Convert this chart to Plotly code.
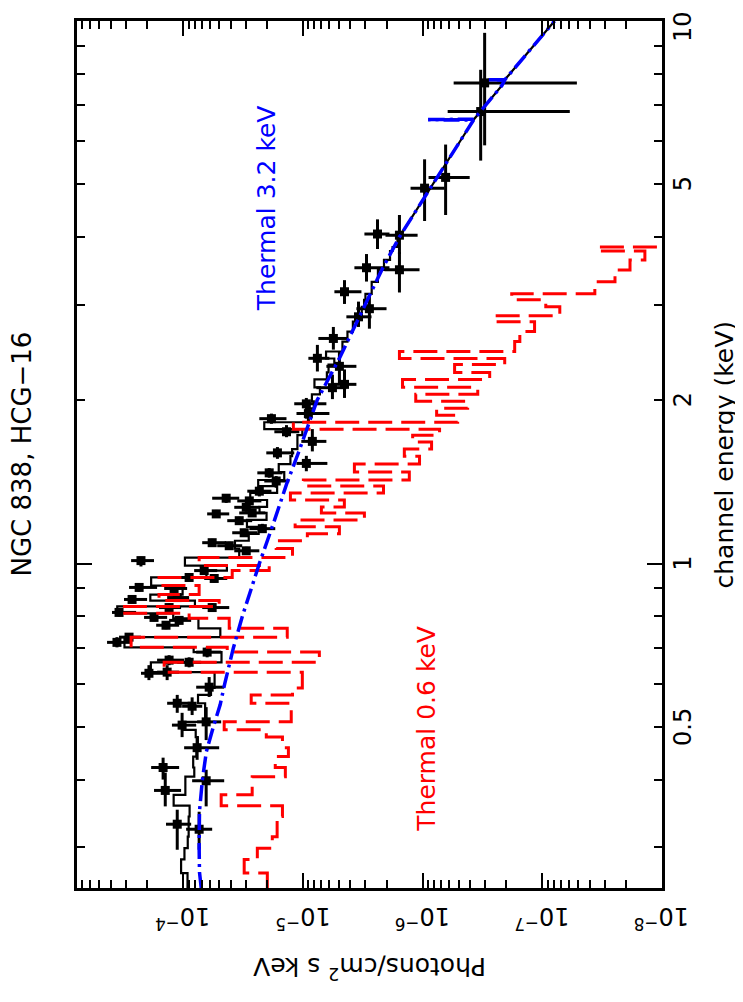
import math
import plotly.graph_objects as go

# ---------------- data ----------------
# Observed spectrum: energy (keV) with bin edges, flux (photons/cm^2 s keV) with error bounds
data_E = [7.69, 6.81, 5.15, 4.92, 4.05, 4.03, 3.51, 3.48, 3.17, 2.95, 2.85, 2.60, 2.39, 2.31,
          2.14, 2.11, 1.97, 1.89, 1.85, 1.75, 1.68, 1.60, 1.53, 1.47, 1.42, 1.36, 1.32, 1.305,
          1.235, 1.27, 1.24, 1.20, 1.16, 1.14, 1.093, 1.079, 1.056, 1.013, 0.971, 0.943, 0.939,
          0.904, 0.900, 0.859, 0.866, 0.813, 0.830, 0.830, 0.796, 0.786, 0.770, 0.716, 0.732,
          0.687, 0.664, 0.658, 0.628, 0.631, 0.592, 0.553, 0.546, 0.504, 0.511, 0.458, 0.421,
          0.382, 0.398, 0.331, 0.324]
data_E_lo = [5.90, 5.53, 4.39, 4.28, 3.80, 3.72, 3.31, 3.16, 3.01, 2.71, 2.73, 2.48, 2.26, 2.14,
             2.02, 2.01, 1.85, 1.83, 1.81, 1.71, 1.61, 1.56, 1.48, 1.44, 1.38, 1.33, 1.294, 1.283,
             1.214, 1.246, 1.22, 1.179, 1.145, 1.121, 1.074, 1.061, 1.039, 0.988, 0.954, 0.927,
             0.923, 0.888, 0.885, 0.845, 0.852, 0.799, 0.816, 0.816, 0.783, 0.773, 0.757, 0.701,
             0.719, 0.672, 0.650, 0.644, 0.610, 0.610, 0.568, 0.531, 0.526, 0.479, 0.473, 0.435,
             0.400, 0.357, 0.357, 0.297, 0.297]
data_E_hi = [9.51, 8.13, 5.92, 5.56, 4.31, 4.39, 3.72, 3.75, 3.33, 3.13, 3.04, 2.73, 2.53, 2.46,
             2.28, 2.23, 2.02, 1.96, 1.89, 1.80, 1.77, 1.64, 1.58, 1.50, 1.45, 1.39, 1.344, 1.327,
             1.256, 1.288, 1.261, 1.22, 1.184, 1.159, 1.111, 1.097, 1.074, 1.03, 0.987, 0.958,
             0.954, 0.919, 0.915, 0.874, 0.881, 0.827, 0.845, 0.845, 0.810, 0.799, 0.782, 0.732,
             0.744, 0.701, 0.678, 0.672, 0.650, 0.650, 0.618, 0.573, 0.567, 0.531, 0.544, 0.479,
             0.439, 0.412, 0.417, 0.352, 0.349]
data_F = [3.03e-7, 3.27e-7, 6.42e-7, 9.62e-7, 2.38e-6, 1.56e-6, 2.94e-6, 1.56e-6, 4.49e-6, 2.78e-6,
          3.43e-6, 5.56e-6, 7.56e-6, 4.95e-6, 4.49e-6, 5.66e-6, 9.35e-6, 8.99e-6, 1.83e-5, 1.37e-5,
          8.33e-6, 1.63e-5, 9.35e-6, 1.91e-5, 1.67e-5, 2.31e-5, 4.37e-5, 2.80e-5, 5.29e-5, 2.97e-5,
          2.65e-5, 3.40e-5, 2.18e-5, 3.09e-5, 5.72e-5, 4.12e-5, 2.97e-5, 2.25e-4, 6.67e-5, 8.91e-5,
          5.50e-5, 2.33e-4, 1.19e-4, 2.67e-4, 1.12e-4, 3.43e-4, 1.31e-4, 5.72e-5, 1.75e-4, 1.08e-4,
          1.39e-4, 3.57e-4, 2.83e-4, 6.30e-5, 1.31e-4, 8.91e-5, 1.93e-4, 1.36e-4, 6.06e-5, 1.12e-4,
          8.41e-5, 1.02e-4, 6.42e-5, 7.64e-5, 1.47e-4, 1.41e-4, 6.42e-5, 1.12e-4, 7.35e-5]
data_F_lo = [5.14e-8, 5.89e-8, 4.04e-7, 6.55e-7, 1.89e-6, 1.10e-6, 1.89e-6, 1.06e-6, 3.24e-6, 2.00e-6,
             2.67e-6, 4.24e-6, 6.00e-6, 3.57e-6, 3.57e-6, 4.33e-6, 6.36e-6, 6.00e-6, 1.37e-5, 1.07e-5,
             6.36e-6, 1.18e-5, 6.24e-6, 1.48e-5, 1.30e-5, 1.83e-5, 3.40e-5, 2.22e-5, 4.12e-5, 2.31e-5,
             2.06e-5, 2.65e-5, 1.70e-5, 2.40e-5, 4.37e-5, 3.21e-5, 2.31e-5, 1.75e-4, 5.19e-5, 7.07e-5,
             4.28e-5, 1.65e-4, 9.26e-5, 2.00e-4, 8.91e-5, 2.47e-4, 1.04e-4, 4.12e-5, 1.36e-4, 8.57e-5,
             1.08e-4, 2.67e-4, 2.25e-4, 4.81e-5, 9.81e-5, 7.07e-5, 1.44e-4, 1.08e-4, 4.54e-5, 8.41e-5,
             6.93e-5, 7.78e-5, 4.81e-5, 5.00e-5, 1.08e-4, 1.04e-4, 4.54e-5, 8.57e-5, 5.72e-5]
data_F_hi = [5.50e-7, 6.17e-7, 8.91e-7, 1.26e-6, 3.06e-6, 2.04e-6, 3.71e-6, 2.08e-6, 5.45e-6, 3.57e-6,
             4.33e-6, 7.42e-6, 8.99e-6, 6.36e-6, 5.66e-6, 7.71e-6, 1.18e-5, 1.13e-5, 2.31e-5, 1.73e-5,
             1.03e-5, 2.02e-5, 1.13e-5, 2.40e-5, 2.10e-5, 2.91e-5, 5.72e-5, 3.53e-5, 6.30e-5, 3.74e-5,
             3.40e-5, 4.28e-5, 2.80e-5, 3.89e-5, 6.93e-5, 5.19e-5, 3.74e-5, 2.72e-4, 8.09e-5, 1.08e-4,
             6.67e-5, 2.83e-4, 1.44e-4, 3.12e-4, 1.36e-4, 3.93e-4, 1.59e-4, 6.93e-5, 2.12e-4, 1.31e-4,
             1.68e-4, 4.32e-4, 3.43e-4, 7.78e-5, 1.65e-4, 1.12e-4, 2.25e-4, 1.65e-4, 7.78e-5, 1.36e-4,
             1.02e-4, 1.24e-4, 7.64e-5, 9.81e-5, 1.85e-4, 1.75e-4, 8.41e-5, 1.39e-4, 9.44e-5]

# Model histogram bins (keV edges)
model_E_edges = [0.2525, 0.269, 0.285, 0.299, 0.314, 0.342, 0.358, 0.375, 0.405, 0.421, 0.441, 0.458,
                 0.479, 0.494, 0.511, 0.553, 0.573, 0.590, 0.631, 0.658, 0.687, 0.701, 0.732, 0.760,
                 0.793, 0.810, 0.834, 0.855, 0.877, 0.911, 0.943, 0.971, 0.992, 1.026, 1.066, 1.102,
                 1.135, 1.169, 1.204, 1.240, 1.272, 1.310, 1.350, 1.390, 1.426, 1.475, 1.526, 1.578,
                 1.626, 1.675, 1.725, 1.769, 1.822, 1.877, 1.933, 1.991, 2.051, 2.113, 2.185, 2.251,
                 2.328, 2.388, 2.460, 2.566, 2.677, 2.792, 2.864, 2.974, 3.063, 3.142, 3.306, 3.478,
                 3.628, 3.768, 3.833, 4.00]
# Thermal 0.6 keV component (red), one value per bin
thermal06_F = [1.98e-5, 3.09e-5, 2.40e-5, 1.80e-5, 1.64e-5, 1.48e-5, 4.81e-5, 2.65e-5, 1.40e-5, 1.70e-5,
               1.32e-5, 1.48e-5, 2.02e-5, 4.54e-5, 1.25e-5, 2.70e-5, 1.22e-5, 1.01e-5, 1.44e-4, 7.28e-6,
               4.28e-5, 2.72e-4, 1.35e-5, 4.12e-5, 8.91e-5, 3.24e-4, 5.00e-5, 1.59e-4, 7.35e-5, 1.59e-4,
               3.89e-5, 1.91e-5, 7.35e-5, 1.22e-5, 1.67e-5, 9.17e-6, 4.95e-6, 1.16e-5, 3.06e-6, 7.00e-6,
               4.50e-6, 1.27e-5, 2.12e-6, 9.90e-6, 1.29e-6, 3.71e-6, 1.06e-6, 1.42e-6, 8.41e-7, 1.21e-6,
               7.21e-7, 1.20e-5, 5.09e-7, 7.63e-7, 4.20e-7, 1.14e-6, 3.46e-7, 1.47e-6, 2.75e-7, 5.40e-7,
               2.06e-7, 1.56e-6, 1.70e-7, 1.54e-7, 1.16e-7, 2.50e-7, 7.14e-8, 9.35e-8, 1.80e-7, 3.64e-8,
               2.47e-8, 1.85e-8, 1.39e-8, 3.43e-8, 5.0e-9]
# Total model (black histogram), one value per bin
total_F = [9.19e-5, 1.04e-4, 9.75e-5, 9.15e-5, 8.99e-5, 8.83e-5, 1.20e-4, 9.58e-5, 8.07e-5, 8.24e-5,
           7.74e-5, 7.54e-5, 7.85e-5, 1.02e-4, 6.55e-5, 7.51e-5, 5.85e-5, 5.46e-5, 1.86e-4, 4.78e-5,
           8.17e-5, 3.09e-4, 4.89e-5, 7.45e-5, 1.21e-4, 3.55e-4, 7.97e-5, 1.88e-4, 1.01e-4, 1.85e-4,
           6.39e-5, 4.31e-5, 9.66e-5, 3.40e-5, 3.69e-5, 2.83e-5, 2.34e-5, 2.93e-5, 2.01e-5, 2.30e-5,
           1.99e-5, 2.75e-5, 1.64e-5, 2.36e-5, 1.43e-5, 1.59e-5, 1.27e-5, 1.23e-5, 1.11e-5, 1.11e-5,
           1.01e-5, 2.10e-5, 9.0e-6, 8.96e-6, 8.1e-6, 8.4e-6, 7.2e-6, 8.0e-6, 6.3e-6, 6.1e-6,
           5.46e-6, 6.4e-6, 4.67e-6, 4.24e-6, 3.82e-6, 3.65e-6, 3.22e-6, 3.08e-6, 3.0e-6, 2.66e-6,
           2.36e-6, 2.10e-6, 1.87e-6, 1.78e-6, 1.62e-6]
# Total model above 4 keV
total_hi_E = [4.0, 5.0, 5.5, 6.5, 6.57, 6.575, 6.585, 6.59, 7.6, 7.78, 7.785, 7.795, 7.80, 10.0]
total_hi_F = [1.56e-6, 8.2e-7, 6.3e-7, 3.9e-7, 3.75e-7, 8.7e-7, 8.7e-7, 3.72e-7, 2.18e-7, 2.06e-7,
              2.86e-7, 2.86e-7, 2.05e-7, 7.9e-8]
# Thermal 3.2 keV component (blue)
thermal32_E = [0.2525, 0.27, 0.30, 0.35, 0.40, 0.45, 0.50, 0.55, 0.60, 0.70, 0.80, 0.90, 1.0, 1.2,
               1.4, 1.6, 2.0, 2.4, 3.0, 3.5, 4.0, 5.0, 5.5, 6.5, 6.57, 6.575, 6.585, 6.59, 7.6,
               7.78, 7.785, 7.795, 7.80, 10.0]
thermal32_F = [7.06e-5, 7.3e-5, 7.35e-5, 7.3e-5, 6.9e-5, 6.4e-5, 5.6e-5, 4.9e-5, 4.5e-5, 3.8e-5,
               3.2e-5, 2.7e-5, 2.31e-5, 1.73e-5, 1.37e-5, 1.09e-5, 7.6e-6, 4.9e-6, 3.0e-6, 2.16e-6,
               1.56e-6, 8.2e-7, 6.3e-7, 3.9e-7, 3.75e-7, 8.7e-7, 8.7e-7, 3.72e-7, 2.18e-7, 2.06e-7,
               2.86e-7, 2.86e-7, 2.05e-7, 7.9e-8]

flux_tick_labels = ["10<sup>\u22124</sup>", "10<sup>\u22125</sup>", "10<sup>\u22126</sup>",
                    "10<sup>\u22127</sup>", "10<sup>\u22128</sup>"]
flux_tick_values = [1e-4, 1e-5, 1e-6, 1e-7, 1e-8]
energy_tick_labels = ["0.5", "1", "2", "5", "10"]
energy_tick_values = [0.5, 1, 2, 5, 10]

title_text = "NGC 838, HCG\u221216"
xlabel_text = "channel energy (keV)"
ylabel_text = "Photons/cm<sup>2</sup> s keV"

# ---------------- figure ----------------
FONT = "DejaVu Sans"
fig = go.Figure()

# total model histogram
fig.add_trace(go.Scatter(
    x=total_F + [total_F[-1]], y=model_E_edges, mode="lines",
    line=dict(color="black", width=2.2, shape="vh"), hoverinfo="skip"))
fig.add_trace(go.Scatter(
    x=total_hi_F, y=total_hi_E, mode="lines",
    line=dict(color="black", width=2.2), hoverinfo="skip"))

# data with error bars
fig.add_trace(go.Scatter(
    x=data_F, y=data_E, mode="markers",
    marker=dict(symbol="square", size=9, color="black"),
    error_x=dict(type="data", symmetric=False,
                 array=[h - v for h, v in zip(data_F_hi, data_F)],
                 arrayminus=[v - l for v, l in zip(data_F, data_F_lo)],
                 color="black", thickness=3, width=0),
    error_y=dict(type="data", symmetric=False,
                 array=[h - v for h, v in zip(data_E_hi, data_E)],
                 arrayminus=[v - l for v, l in zip(data_E, data_E_lo)],
                 color="black", thickness=3, width=0)))

# thermal 0.6 keV (red dashed histogram)
fig.add_trace(go.Scatter(
    x=thermal06_F + [thermal06_F[-1]], y=model_E_edges, mode="lines",
    line=dict(color="#ff0000", width=3, shape="vh", dash="24px,9px"), hoverinfo="skip"))

# thermal 3.2 keV (blue dash-dot)
fig.add_trace(go.Scatter(
    x=thermal32_F, y=thermal32_E, mode="lines",
    line=dict(color="#0000ff", width=3.5, dash="16px,5px,3px,5px"), hoverinfo="skip"))

def minor_vals(decades, lo, hi):
    out = []
    for d in decades:
        for k in range(2, 10):
            v = k * 10.0 ** d
            if lo < v < hi:
                out.append(v)
    return out

axis_common = dict(type="log", autorange=False, showgrid=False, zeroline=False,
                   showline=True, linecolor="black", linewidth=3, mirror="allticks",
                   ticks="inside", ticklen=15, tickwidth=2, tickcolor="black",
                   showticklabels=False)

x_lo, x_hi = 7.7e-4, 1e-8
y_lo, y_hi = 0.2525, 10.0
fig.update_xaxes(range=[math.log10(x_lo), math.log10(x_hi)],
                 tickmode="array", tickvals=flux_tick_values,
                 minor=dict(ticks="inside", ticklen=8, tickwidth=2, tickcolor="black",
                            tickmode="array", tickvals=minor_vals(range(-9, -3), x_hi, x_lo),
                            showgrid=False),
                 **axis_common)
fig.update_yaxes(range=[math.log10(y_lo), math.log10(y_hi)], side="right",
                 tickmode="array", tickvals=[1, 10],
                 minor=dict(ticks="inside", ticklen=8, tickwidth=2, tickcolor="black",
                            tickmode="array", tickvals=minor_vals(range(-1, 1), y_lo, y_hi),
                            showgrid=False),
                 **axis_common)

def label(**kw):
    base = dict(showarrow=False, xanchor="center", yanchor="middle")
    base.update(kw)
    return base

ann = []
for v, t in zip(flux_tick_values, flux_tick_labels):
    ann.append(label(x=math.log10(v), xref="x", y=0, yref="paper", yshift=-30,
                     text=t, textangle=180,
                     font=dict(family=FONT, size=24, color="black")))
for v, t in zip(energy_tick_values, energy_tick_labels):
    ann.append(label(x=1, xref="paper", xshift=21, y=math.log10(v), yref="y",
                     yshift=(-6 if v == 10 else 0),
                     text=t, textangle=-90,
                     font=dict(family=FONT, size=24, color="black")))
ann.append(label(x=0.5, xref="paper", y=0, yref="paper", yshift=-80, text=ylabel_text,
                 textangle=180, font=dict(family=FONT, size=25, color="black")))
ann.append(label(x=1, xref="paper", xshift=62, y=0.5, yref="paper", text=xlabel_text,
                 textangle=-90, font=dict(family=FONT, size=25, color="black")))
ann.append(label(x=0, xref="paper", xshift=-56, y=0.5, yref="paper", text=title_text,
                 textangle=-90, font=dict(family=FONT, size=26, color="black")))
ann.append(label(x=0.323, xref="paper", y=0.784, yref="paper", text="Thermal 3.2 keV",
                 textangle=-90, font=dict(family=FONT, size=25, color="#0000ff")))
ann.append(label(x=0.597, xref="paper", y=0.184, yref="paper", text="Thermal 0.6 keV",
                 textangle=-90, font=dict(family=FONT, size=25, color="#ff0000")))

# page body adds an 8px offset; sizes/margins chosen so the frame lands at x 77-662, y 18-888
fig.update_layout(width=735, height=986, margin=dict(l=69, r=81, t=10, b=106),
                  paper_bgcolor="white", plot_bgcolor="white", showlegend=False,
                  annotations=ann, font=dict(family=FONT))

fig.write_html("out.html")
